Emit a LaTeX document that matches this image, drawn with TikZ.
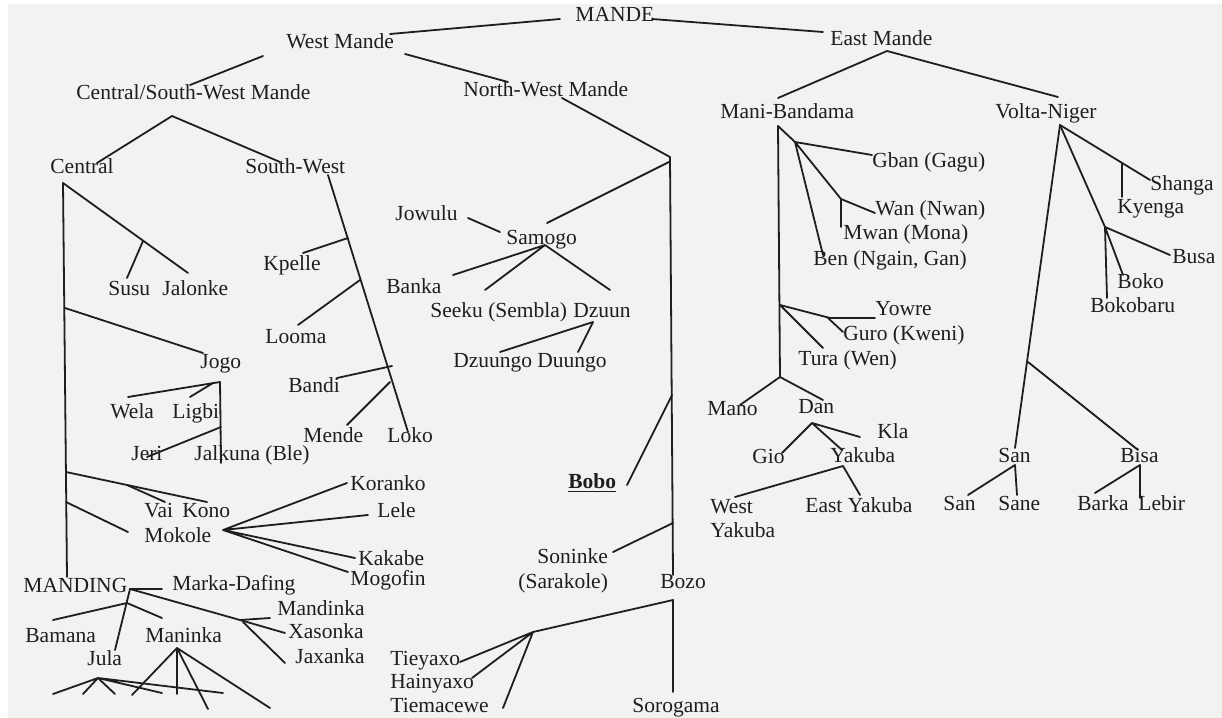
\documentclass[tikz,border=0pt]{standalone}
\usepackage{fontspec}
\setmainfont{Liberation Serif}
\definecolor{paper}{RGB}{242,242,241}
\definecolor{ink}{RGB}{30,30,30}
\begin{document}
\begin{tikzpicture}[x=0.5pt,y=-0.5pt,
  lbl/.style={anchor=base west,inner sep=0pt,text=ink,font=\fontsize{10.75}{12}\selectfont},
  ln/.style={draw=ink,line width=0.9pt,line cap=round,line join=round}]
\useasboundingbox (0,0) rectangle (1222,718);
\fill[white] (0,0) rectangle (1222,718);
\fill[paper] (8,4) rectangle (1222,718);
% ---------- labels ----------
\node[lbl] (mande) at (575,21) {MANDE};
\node[lbl] (westm) at (286,48) {West Mande};
\node[lbl] (eastm) at (830,45) {East Mande};
\node[lbl] (csw) at (76,99) {Central/South-West Mande};
\node[lbl] (nwm) at (463,96) {North-West Mande};
\node[lbl] (manib) at (720,118) {Mani-Bandama};
\node[lbl] (voltan) at (995,118) {Volta-Niger};
\node[lbl] (central) at (50,173) {Central};
\node[lbl] (southw) at (245,173) {South-West};
\node[lbl] (jowulu) at (395,220) {Jowulu};
\node[lbl] (samogo) at (506,244) {Samogo};
\node[lbl] (banka) at (386,293) {Banka};
\node[lbl] (seeku) at (430,317) {Seeku (Sembla)};
\node[lbl] (dzuun) at (573,317) {Dzuun};
\node[lbl] (dzuungo) at (453,367) {Dzuungo};
\node[lbl] (duungo) at (537,367) {Duungo};
\node[lbl] (kpelle) at (263,270) {Kpelle};
\node[lbl] (susu) at (108,295) {Susu};
\node[lbl] (jalonke) at (162,295) {Jalonke};
\node[lbl] (looma) at (265,343) {Looma};
\node[lbl] (jogo) at (200,368) {Jogo};
\node[lbl] (bandi) at (288,392) {Bandi};
\node[lbl] (wela) at (110,418) {Wela};
\node[lbl] (ligbi) at (172,418) {Ligbi};
\node[lbl] (mende) at (303,442) {Mende};
\node[lbl] (loko) at (387,442) {Loko};
\node[lbl] (jeri) at (131,460) {Jeri};
\node[lbl] (jalkuna) at (194,460) {Jalkuna (Ble)};
\node[lbl] (vai) at (144,517) {Vai};
\node[lbl] (kono) at (182,517) {Kono};
\node[lbl] (mokole) at (144,542) {Mokole};
\node[lbl] (koranko) at (350,490) {Koranko};
\node[lbl] (lele) at (377,517) {Lele};
\node[lbl] (kakabe) at (358,565) {Kakabe};
\node[lbl] (mogofin) at (350,585) {Mogofin};
\node[lbl] (manding) at (23,592) {MANDING};
\node[lbl] (markad) at (172,590) {Marka-Dafing};
\node[lbl] (mandinka) at (277,615) {Mandinka};
\node[lbl] (xasonka) at (288,638) {Xasonka};
\node[lbl] (jaxanka) at (295,663) {Jaxanka};
\node[lbl] (bamana) at (25,642) {Bamana};
\node[lbl] (maninka) at (145,642) {Maninka};
\node[lbl] (jula) at (87,665) {Jula};
\node[lbl] (bobo) at (568,488) {\underline{\textbf{Bobo}}};
\node[lbl] (soninke) at (537,563) {Soninke};
\node[lbl] (sarakole) at (518,588) {(Sarakole)};
\node[lbl] (bozo) at (660,588) {Bozo};
\node[lbl] (tieyaxo) at (390,665) {Tieyaxo};
\node[lbl] (hainyaxo) at (390,688) {Hainyaxo};
\node[lbl] (tiemacewe) at (390,712) {Tiemacewe};
\node[lbl] (sorogama) at (632,712) {Sorogama};
\node[lbl] (gban) at (872,167) {Gban (Gagu)};
\node[lbl] (wan) at (875,215) {Wan (Nwan)};
\node[lbl] (mwan) at (843,239) {Mwan (Mona)};
\node[lbl] (ben) at (813,265) {Ben (Ngain, Gan)};
\node[lbl] (yowre) at (875,315) {Yowre};
\node[lbl] (guro) at (843,340) {Guro (Kweni)};
\node[lbl] (tura) at (798,365) {Tura (Wen)};
\node[lbl] (mano) at (707,415) {Mano};
\node[lbl] (dan) at (798,413) {Dan};
\node[lbl] (kla) at (877,438) {Kla};
\node[lbl] (gio) at (752,463) {Gio};
\node[lbl] (yakuba) at (830,462) {Yakuba};
\node[lbl] (westy) at (710,513) {West};
\node[lbl] (westy2) at (710,537) {Yakuba};
\node[lbl] (easty) at (805,512) {East Yakuba};
\node[lbl] (shanga) at (1150,190) {Shanga};
\node[lbl] (kyenga) at (1117,213) {Kyenga};
\node[lbl] (busa) at (1172,263) {Busa};
\node[lbl] (boko) at (1117,288) {Boko};
\node[lbl] (bokobaru) at (1090,312) {Bokobaru};
\node[lbl] (san) at (998,462) {San};
\node[lbl] (bisa) at (1120,462) {Bisa};
\node[lbl] (san2) at (943,510) {San};
\node[lbl] (sane) at (998,510) {Sane};
\node[lbl] (barka) at (1077,510) {Barka};
\node[lbl] (lebir) at (1138,510) {Lebir};
% ---------- connector points ----------
\coordinate (wmR) at (390,34); \coordinate (mdL) at (560,19);
\coordinate (mdR) at (652,19); \coordinate (emL) at (823,32);
\coordinate (wmB1) at (263,56); \coordinate (cswT) at (190,85);
\coordinate (wmB2) at (405,54); \coordinate (nwT) at (508,82);
\coordinate (cswA) at (172,116); \coordinate (cenT) at (97,163); \coordinate (swT) at (280,162);
\coordinate (swA) at (328,175); \coordinate (lokoT) at (408,432);
\coordinate (kpA) at (348,238); \coordinate (kpE) at (303,253);
\coordinate (loA) at (360,280); \coordinate (loE) at (298,325);
\coordinate (baA) at (392,366); \coordinate (baE) at (337,378);
\coordinate (meA) at (390,382); \coordinate (meE) at (347,425);
\coordinate (cenA) at (63,183); \coordinate (cenB) at (67,577);
\coordinate (jalE) at (188,273); \coordinate (suA) at (143,241); \coordinate (suE) at (127,278);
\coordinate (joA) at (65,308); \coordinate (joE) at (203,353);
\coordinate (jgA) at (220,382); \coordinate (jgB) at (221,463);
\coordinate (weE) at (128,397); \coordinate (liA) at (213,383); \coordinate (liE) at (190,397);
\coordinate (jeA) at (221,427); \coordinate (jeE) at (147,457);
\coordinate (koA) at (66,472); \coordinate (koE) at (207,502);
\coordinate (vaA) at (127,485); \coordinate (vaE) at (165,502);
\coordinate (moA) at (66,502); \coordinate (moE) at (128,532);
\coordinate (mkA) at (223,530); \coordinate (korE) at (347,483); \coordinate (leE) at (368,515);
\coordinate (kaE) at (355,558); \coordinate (mgE) at (348,572);
\coordinate (mdgA) at (130,589); \coordinate (mkdE) at (162,589);
\coordinate (julE) at (115,650); \coordinate (bmA) at (127,603); \coordinate (bmE) at (53,620);
\coordinate (mnE) at (162,618);
\coordinate (mdkA) at (240,620); \coordinate (mdkE) at (270,618); \coordinate (xaE) at (285,633);
\coordinate (jxA) at (243,622); \coordinate (jxE) at (285,663);
\coordinate (jfA) at (98,678); \coordinate (jf1) at (53,694); \coordinate (jf2) at (83,694);
\coordinate (jf3) at (115,694); \coordinate (jf4) at (162,693); \coordinate (jf5) at (223,693);
\coordinate (mfA) at (177,648); \coordinate (mf1) at (132,695); \coordinate (mf2) at (177,694);
\coordinate (mf3) at (208,709); \coordinate (mf4) at (270,708);
\coordinate (nwA) at (562,98); \coordinate (nwB) at (670,157); \coordinate (bzT) at (673,575);
\coordinate (bzB) at (673,600); \coordinate (soroT) at (673,692);
\coordinate (smA) at (669,162); \coordinate (smE) at (547,223);
\coordinate (jwA) at (468,218); \coordinate (jwE) at (500,232);
\coordinate (sfA) at (545,245); \coordinate (sf1) at (453,275); \coordinate (sf2) at (485,290); \coordinate (sf3) at (610,290);
\coordinate (dfA) at (593,322); \coordinate (df1) at (500,352); \coordinate (df2) at (578,352);
\coordinate (bbA) at (672,395); \coordinate (bbE) at (627,485);
\coordinate (snA) at (673,523); \coordinate (snE) at (613,552);
\coordinate (tfA) at (533,632); \coordinate (tf1) at (460,662); \coordinate (tf2) at (472,678); \coordinate (tf3) at (503,708);
\coordinate (emA) at (887,51); \coordinate (mbT) at (778,98); \coordinate (vnT) at (1058,97);
\coordinate (mbA) at (778,126); \coordinate (mbB) at (780,377); \coordinate (mbD) at (795,142);
\coordinate (gbE) at (872,155); \coordinate (wnA) at (841,199); \coordinate (wnE) at (875,213);
\coordinate (mwE) at (841,227); \coordinate (beE) at (823,255);
\coordinate (yoA) at (780,305); \coordinate (yoM) at (830,318); \coordinate (yoE) at (875,318);
\coordinate (guA) at (828,318); \coordinate (guE) at (843,332); \coordinate (tuE) at (823,348);
\coordinate (maE) at (740,405); \coordinate (daE) at (823,400);
\coordinate (dnA) at (812,423); \coordinate (giE) at (782,453); \coordinate (klE) at (860,437); \coordinate (ykE) at (842,450);
\coordinate (ykA) at (843,466); \coordinate (wyE) at (735,497); \coordinate (eyE) at (860,495);
\coordinate (vnA) at (1060,125); \coordinate (shE) at (1150,180); \coordinate (kyA) at (1122,163); \coordinate (kyE) at (1122,197);
\coordinate (bkA) at (1105,227); \coordinate (buE) at (1170,255); \coordinate (boE) at (1123,275); \coordinate (bbkE) at (1107,298);
\coordinate (saT) at (1015,448); \coordinate (bsA) at (1028,362); \coordinate (bsE) at (1138,450);
\coordinate (sbA) at (1015,465); \coordinate (sb1) at (968,495); \coordinate (sb2) at (1017,495);
\coordinate (biA) at (1140,465); \coordinate (bi1) at (1095,493); \coordinate (bi2) at (1140,498);
% ---------- connectors ----------
\draw[ln] (wmR) -- (mdL);
\draw[ln] (mdR) -- (emL);
\draw[ln] (wmB1) -- (cswT);
\draw[ln] (wmB2) -- (nwT);
\draw[ln] (cenT) -- (cswA) -- (swT);
\draw[ln] (swA) -- (lokoT);
\draw[ln] (kpA) -- (kpE);
\draw[ln] (loA) -- (loE);
\draw[ln] (baA) -- (baE);
\draw[ln] (meA) -- (meE);
\draw[ln] (cenA) -- (cenB);
\draw[ln] (cenA) -- (jalE);
\draw[ln] (suA) -- (suE);
\draw[ln] (joA) -- (joE);
\draw[ln] (jgA) -- (jgB);
\draw[ln] (jgA) -- (weE);
\draw[ln] (liA) -- (liE);
\draw[ln] (jeA) -- (jeE);
\draw[ln] (koA) -- (koE);
\draw[ln] (vaA) -- (vaE);
\draw[ln] (moA) -- (moE);
\draw[ln] (mkA) -- (korE) (mkA) -- (leE) (mkA) -- (kaE) (mkA) -- (mgE);
\draw[ln] (mdgA) -- (mkdE);
\draw[ln] (mdgA) -- (julE);
\draw[ln] (bmA) -- (bmE) (bmA) -- (mnE);
\draw[ln] (mdgA) -- (mdkA) -- (mdkE);
\draw[ln] (mdkA) -- (xaE);
\draw[ln] (jxA) -- (jxE);
\draw[ln] (jfA) -- (jf1) (jfA) -- (jf2) (jfA) -- (jf3) (jfA) -- (jf4) (jfA) -- (jf5);
\draw[ln] (mfA) -- (mf1) (mfA) -- (mf2) (mfA) -- (mf3) (mfA) -- (mf4);
\draw[ln] (nwA) -- (nwB) -- (bzT);
\draw[ln] (bzB) -- (soroT);
\draw[ln] (smA) -- (smE);
\draw[ln] (jwA) -- (jwE);
\draw[ln] (sfA) -- (sf1) (sfA) -- (sf2) (sfA) -- (sf3);
\draw[ln] (dfA) -- (df1) (dfA) -- (df2);
\draw[ln] (bbA) -- (bbE);
\draw[ln] (snA) -- (snE);
\draw[ln] (bzB) -- (tfA);
\draw[ln] (tfA) -- (tf1) (tfA) -- (tf2) (tfA) -- (tf3);
\draw[ln] (mbT) -- (emA) -- (vnT);
\draw[ln] (mbA) -- (mbB);
\draw[ln] (mbA) -- (mbD);
\draw[ln] (mbD) -- (gbE) (mbD) -- (wnA) (mbD) -- (beE);
\draw[ln] (wnA) -- (wnE) (wnA) -- (mwE);
\draw[ln] (yoA) -- (yoM) -- (yoE);
\draw[ln] (guA) -- (guE);
\draw[ln] (yoA) -- (tuE);
\draw[ln] (maE) -- (mbB) -- (daE);
\draw[ln] (dnA) -- (giE) (dnA) -- (klE) (dnA) -- (ykE);
\draw[ln] (wyE) -- (ykA) -- (eyE);
\draw[ln] (vnA) -- (shE);
\draw[ln] (kyA) -- (kyE);
\draw[ln] (vnA) -- (bkA);
\draw[ln] (bkA) -- (buE) (bkA) -- (boE) (bkA) -- (bbkE);
\draw[ln] (vnA) -- (saT);
\draw[ln] (bsA) -- (bsE);
\draw[ln] (sbA) -- (sb1) (sbA) -- (sb2);
\draw[ln] (biA) -- (bi1) (biA) -- (bi2);
\end{tikzpicture}
\end{document}
